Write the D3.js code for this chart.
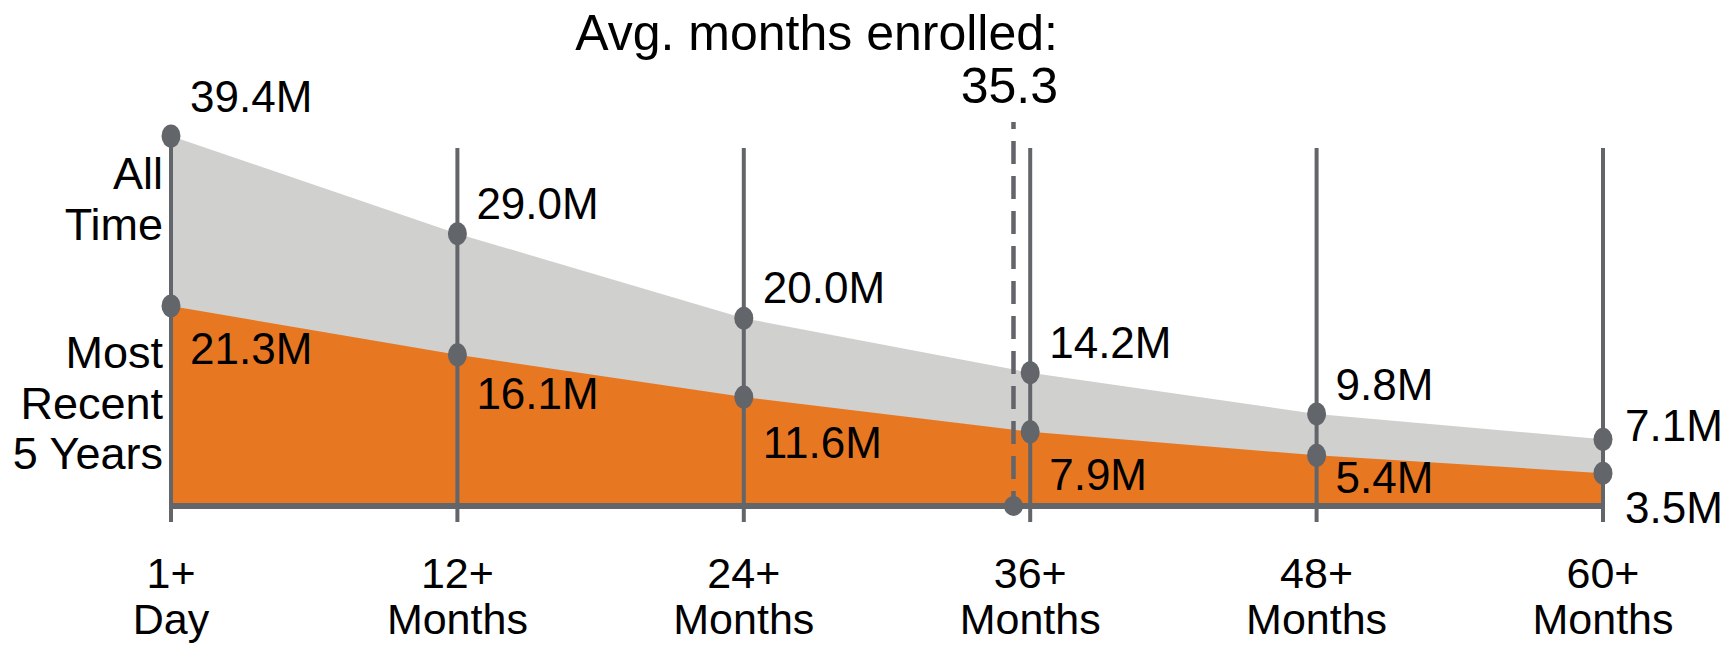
<!DOCTYPE html>
<html>
<head>
<meta charset="utf-8">
<script src="https://cdn.jsdelivr.net/npm/d3@7"></script>
<style>
  html, body { margin: 0; padding: 0; background: #fff; }
  text { font-family: "Liberation Sans", Arial, sans-serif; fill: #000; }
</style>
</head>
<body>
<div id="container"></div>
<script>
// Enrollment thresholds (months) and their labels
const months = [0, 12, 24, 36, 48, 60];
const tickTop = ["1+", "12+", "24+", "36+", "48+", "60+"];
const tickBottom = ["Day", "Months", "Months", "Months", "Months", "Months"];

// Members (millions) still enrolled at each threshold
const allTime = [39.4, 29.0, 20.0, 14.2, 9.8, 7.1];
const recent = [21.3, 16.1, 11.6, 7.9, 5.4, 3.5];
const avgMonths = 35.3;

const width = 1725, height = 646;
const dark = '#626569';

const svg = d3.select('#container').append('svg')
    .attr('width', width)
    .attr('height', height);

// Scales
const x = d3.scaleLinear().domain([0, 60]).range([171, 1603]);
const y = d3.scaleLinear().domain([0, 39.4]).range([506, 136]);

// Areas
const area = vals => d3.area()
    .x((d, i) => x(months[i]))
    .y0(y(0))
    .y1(d => y(d))(vals);

svg.append('path').attr('d', area(allTime)).attr('fill', '#d0d0ce');
svg.append('path').attr('d', area(recent)).attr('fill', '#e87722');

// Vertical guide lines
svg.selectAll('line.guide')
    .data(months)
    .enter()
    .append('line')
    .attr('class', 'guide')
    .attr('x1', d => x(d))
    .attr('x2', d => x(d))
    .attr('y1', (d, i) => i === 0 ? y(allTime[0]) : 148)
    .attr('y2', 522)
    .attr('stroke', dark)
    .attr('stroke-width', 4);

// Baseline
svg.append('line')
    .attr('x1', x(0) - 2).attr('x2', x(60) + 2)
    .attr('y1', y(0)).attr('y2', y(0))
    .attr('stroke', dark)
    .attr('stroke-width', 6);

// Average marker
svg.append('line')
    .attr('x1', x(avgMonths)).attr('x2', x(avgMonths))
    .attr('y1', 122).attr('y2', y(0))
    .attr('stroke', dark)
    .attr('stroke-width', 4.5)
    .attr('stroke-dasharray', '23,12')
    .attr('stroke-dashoffset', 16);

svg.append('ellipse')
    .attr('cx', x(avgMonths)).attr('cy', y(0))
    .attr('rx', 9.5).attr('ry', 10)
    .attr('fill', dark);

// Dots
[allTime, recent].forEach(vals => {
    svg.selectAll(null)
        .data(vals)
        .enter()
        .append('ellipse')
        .attr('cx', (d, i) => x(months[i]))
        .attr('cy', d => y(d))
        .attr('rx', 9.5)
        .attr('ry', 11.5)
        .attr('fill', dark);
});

// Value labels (hand-placed offsets from each dot)
const allDy = [-24, -15, -15, -15, -14, 2];
const recentDy = [58, 54, 61, 58, 38, 50];

svg.selectAll(null)
    .data(allTime)
    .enter()
    .append('text')
    .attr('x', (d, i) => x(months[i]) + (i === 5 ? 22 : 19))
    .attr('y', (d, i) => y(d) + allDy[i])
    .style('font-size', '44px')
    .text(d => d.toFixed(1) + 'M');

svg.selectAll(null)
    .data(recent)
    .enter()
    .append('text')
    .attr('x', (d, i) => x(months[i]) + (i === 5 ? 22 : 19))
    .attr('y', (d, i) => y(d) + recentDy[i])
    .style('font-size', '44px')
    .text(d => d.toFixed(1) + 'M');

// Tick labels
const ticks = svg.selectAll('text.tick')
    .data(months)
    .enter()
    .append('text')
    .attr('class', 'tick')
    .attr('text-anchor', 'middle')
    .style('font-size', '43px');
ticks.append('tspan').attr('x', d => x(d)).attr('y', 588).text((d, i) => tickTop[i]);
ticks.append('tspan').attr('x', d => x(d)).attr('y', 634).text((d, i) => tickBottom[i]);

// Series names
const names = [
    { lines: ['All', 'Time'], y: 189 },
    { lines: ['Most', 'Recent', '5 Years'], y: 368 }
];
names.forEach(n => {
    const t = svg.append('text')
        .attr('text-anchor', 'end')
        .style('font-size', '45px');
    n.lines.forEach((l, i) => {
        t.append('tspan').attr('x', 163).attr('y', n.y + i * 50.5).text(l);
    });
});

// Average annotation
svg.append('text')
    .attr('x', 1058).attr('y', 50)
    .attr('text-anchor', 'end')
    .style('font-size', '50px')
    .text('Avg. months enrolled:');
svg.append('text')
    .attr('x', 1058).attr('y', 103)
    .attr('text-anchor', 'end')
    .style('font-size', '50px')
    .text(avgMonths.toFixed(1));
</script>
</body>
</html>
